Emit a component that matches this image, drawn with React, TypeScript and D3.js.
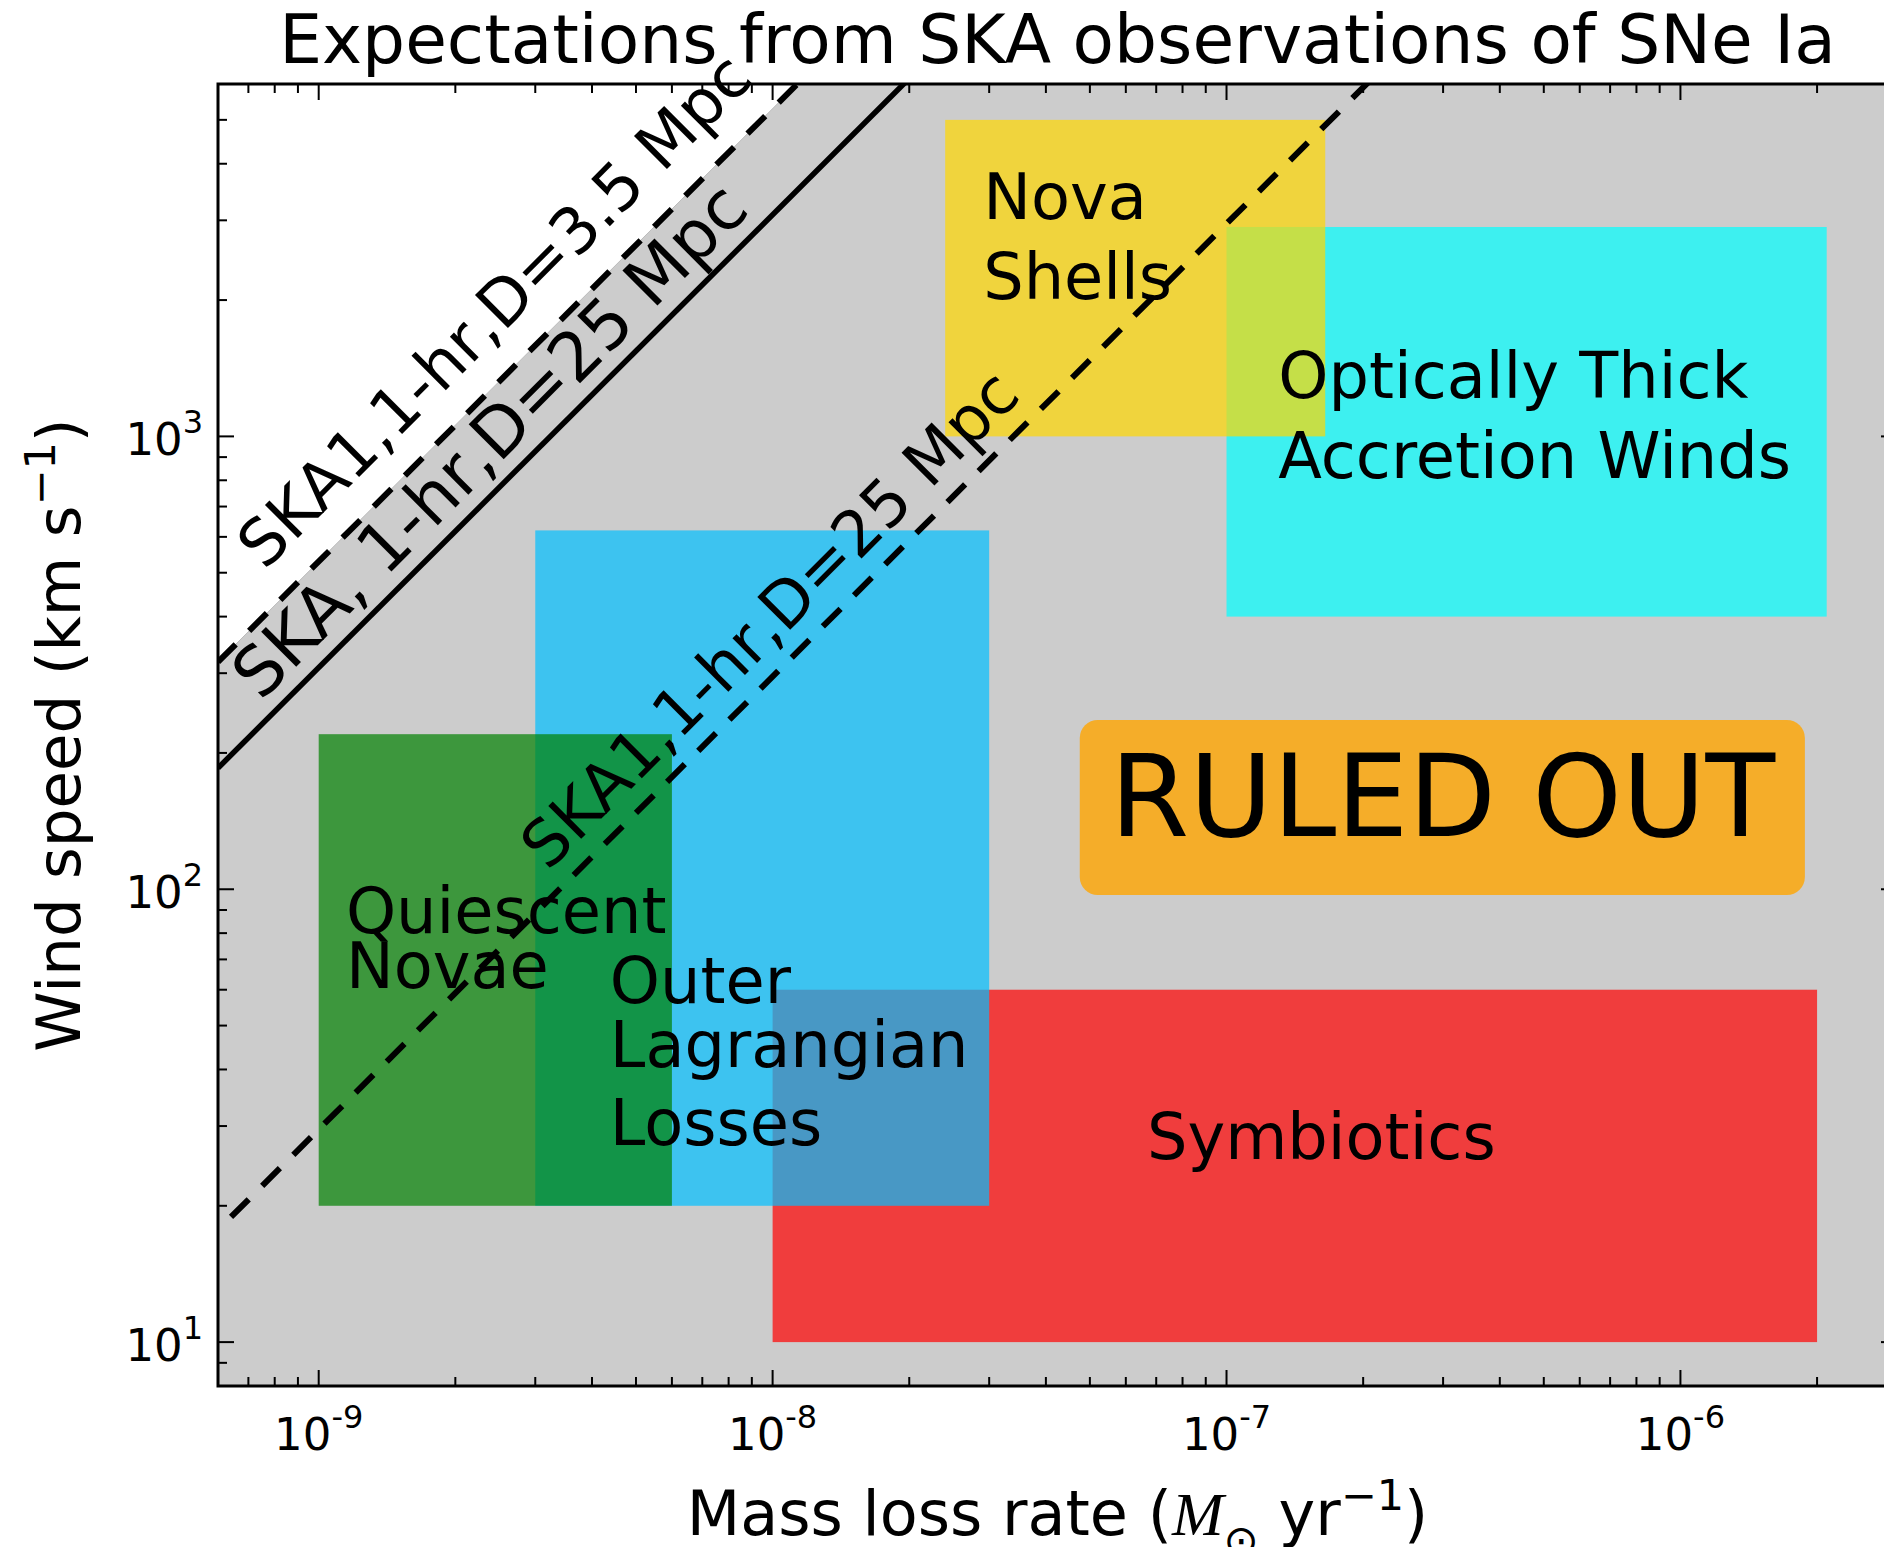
import React from 'react';
import * as d3 from 'd3';

// ---------- data ----------
const X_DOMAIN: [number, number] = [6e-10, 3e-6];
const Y_DOMAIN: [number, number] = [8, 6000];

const X_MAJOR = [1e-9, 1e-8, 1e-7, 1e-6];
const X_MAJOR_EXP = ['-9', '-8', '-7', '-6'];
const Y_MAJOR = [10, 100, 1000];
const Y_MAJOR_EXP = ['1', '2', '3'];

// regions (in drawing order)
const regionNames = ['Symbiotics', 'Outer Lagrangian Losses', 'Quiescent Novae', 'Optically Thick Accretion Winds', 'Nova Shells'];
const regionXMin = [1e-8, 3e-9, 1e-9, 1e-7, 2.4e-8];
const regionXMax = [2e-6, 3e-8, 6e-9, 2.1e-6, 1.65e-7];
const regionYMin = [10, 20, 20, 400, 1000];
const regionYMax = [60, 620, 220, 2900, 5000];
const regionColors = ['red', 'deepskyblue', 'green', 'cyan', 'gold'];

// detection limits (power laws v ∝ Mdot), endpoints
const limitNames = ['SKA1,1-hr,D=3.5 Mpc', 'SKA, 1-hr,D=25 Mpc', 'SKA1,1-hr,D=25 Mpc'];
const limitX = [[6e-10, 1e-7], [6e-10, 1e-7], [6.41e-10, 1e-6]];
const limitY = [[317.6, 52933], [185.2, 30867], [18.9, 29485]];
const limitDashed = [true, false, true];
// label anchor (baseline start) of each limit label, data coords
const limitLabelX = [7.61e-10, 7.46e-10, 3.2e-9];
const limitLabelY = [504, 259, 109.2];
const limitLabelSize = [64, 68, 63.8];

// region labels (one entry per text line), baseline-left in data coords
const labelLines = ['Nova', 'Shells', 'Optically Thick', 'Accretion Winds', 'Quiescent', 'Novae', 'Outer', 'Lagrangian', 'Losses', 'Symbiotics'];
const labelX = [2.91e-8, 2.91e-8, 1.3e-7, 1.3e-7, 1.148e-9, 1.148e-9, 4.38e-9, 4.38e-9, 4.38e-9, 6.68e-8];
const labelY = [3025, 2015, 1213, 809, 80.1, 60.4, 56.0, 40.6, 27.2, 25.4];

// "RULED OUT" annotation
const ruledText = 'RULED OUT';
const ruledX = 5.54e-8;
const ruledY = 131.1;
const ruledBoxX = [4.75e-8, 1.88e-6];
const ruledBoxY = [97.1, 236.5];

const TITLE = 'Expectations from SKA observations of SNe Ia';

// ---------- layout ----------
const W = 1884, H = 1547;
const L = 218, R = 1897, T = 84, B = 1386;
const FONT = 'DejaVu Sans, Verdana, sans-serif';

export default function App() {
  const x = d3.scaleLog().domain(X_DOMAIN).range([L, R]);
  const y = d3.scaleLog().domain(Y_DOMAIN).range([B, T]);
  const line = d3.line<[number, number]>().x(d => x(d[0])).y(d => y(d[1]));

  const xMinor = x.ticks().filter(t => !X_MAJOR.some(m => Math.abs(m - t) / m < 1e-6));
  const yMinor = y.ticks().filter(t => !Y_MAJOR.some(m => Math.abs(m - t) / m < 1e-6));

  const upperPts: [number, number][] = limitX[0].map((v, i) => [v, limitY[0][i]] as [number, number]);
  const whitePoly = [...upperPts, [X_DOMAIN[0], limitY[0][1]] as [number, number]];

  const majorLen = 16, minorLen = 9;

  return (
    <svg width={W} height={H} style={{ position: 'absolute', left: 0, top: 0, background: '#fff' }}
      fontFamily={FONT}>
      <defs>
        <clipPath id="plotclip"><rect x={L} y={T} width={R - L} height={B - T} /></clipPath>
      </defs>
      <rect x={0} y={0} width={W} height={H} fill="#fff" />
      {/* title */}
      <text x={(L + R) / 2} y={63} textAnchor="middle" fontSize={67.8} fill="#000">{TITLE}</text>

      <g clipPath="url(#plotclip)">
        <rect x={L} y={T} width={R - L} height={B - T} fill="#cccccc" />
        <path d={line(whitePoly) + 'Z'} fill="#ffffff" stroke="#bbbbbb" strokeWidth={1} />
        {regionNames.map((n, i) => (
          <rect key={n}
            x={x(regionXMin[i])} y={y(regionYMax[i])}
            width={x(regionXMax[i]) - x(regionXMin[i])}
            height={y(regionYMin[i]) - y(regionYMax[i])}
            fill={regionColors[i]} fillOpacity={0.7} />
        ))}
        {limitNames.map((n, i) => (
          <path key={n} d={line(limitX[i].map((v, j) => [v, limitY[i][j]] as [number, number])) || ''}
            fill="none" stroke="#000" strokeWidth={limitDashed[i] ? 6 : 5.5}
            strokeDasharray={limitDashed[i] ? '25 19' : undefined} />
        ))}
        {/* ruled out box */}
        <rect x={x(ruledBoxX[0])} y={y(ruledBoxY[1])}
          width={x(ruledBoxX[1]) - x(ruledBoxX[0])} height={y(ruledBoxY[0]) - y(ruledBoxY[1])}
          rx={18} ry={18} fill="orange" fillOpacity={0.8} />
      </g>

      {/* texts inside the axes (not clipped) */}
      <text x={x(ruledX)} y={y(ruledY)} fontSize={114} fill="#000">{ruledText}</text>
      {labelLines.map((t, i) => (
        <text key={t} x={x(labelX[i])} y={y(labelY[i])} fontSize={63.8} fill="#000">{t}</text>
      ))}
      {limitNames.map((n, i) => (
        <text key={'lab' + n} transform={`translate(${x(limitLabelX[i])},${y(limitLabelY[i])}) rotate(-45)`}
          fontSize={limitLabelSize[i]} fill="#000">{n}</text>
      ))}

      {/* ticks */}
      <g stroke="#000" strokeWidth={2}>
        {X_MAJOR.map(t => (
          <g key={'xM' + t}>
            <line x1={x(t)} x2={x(t)} y1={B} y2={B - majorLen} />
            <line x1={x(t)} x2={x(t)} y1={T} y2={T + majorLen} />
          </g>
        ))}
        {xMinor.map(t => (
          <g key={'xm' + t}>
            <line x1={x(t)} x2={x(t)} y1={B} y2={B - minorLen} />
            <line x1={x(t)} x2={x(t)} y1={T} y2={T + minorLen} />
          </g>
        ))}
        {Y_MAJOR.map(t => (
          <g key={'yM' + t}>
            <line x1={L} x2={L + majorLen} y1={y(t)} y2={y(t)} />
            <line x1={R} x2={R - majorLen} y1={y(t)} y2={y(t)} />
          </g>
        ))}
        {yMinor.map(t => (
          <g key={'ym' + t}>
            <line x1={L} x2={L + minorLen} y1={y(t)} y2={y(t)} />
            <line x1={R} x2={R - minorLen} y1={y(t)} y2={y(t)} />
          </g>
        ))}
      </g>
      {/* spines */}
      <rect x={L} y={T} width={R - L} height={B - T} fill="none" stroke="#000" strokeWidth={3} />

      {/* tick labels */}
      {X_MAJOR.map((t, i) => (
        <text key={'xl' + t} x={x(t)} y={1450} textAnchor="middle" fontSize={45} fill="#000">
          10<tspan dy={-22} fontSize={32}>{X_MAJOR_EXP[i]}</tspan>
        </text>
      ))}
      {Y_MAJOR.map((t, i) => (
        <text key={'yl' + t} x={203} y={y(t) + 19} textAnchor="end" fontSize={45} fill="#000">
          10<tspan dy={-22} fontSize={32}>{Y_MAJOR_EXP[i]}</tspan>
        </text>
      ))}

      {/* axis labels */}
      <text x={(L + R) / 2} y={1535} textAnchor="middle" fontSize={62} fill="#000">
        Mass loss rate (<tspan fontFamily="Liberation Serif, serif" fontStyle="italic">M</tspan>
        <tspan dy={20} fontSize={42}>⊙</tspan>
        <tspan dy={-20}> yr</tspan>
        <tspan dy={-25} fontSize={43}>−1</tspan>
        <tspan dy={25}>)</tspan>
      </text>
      <text transform={`translate(80,${(T + B) / 2}) rotate(-90)`} textAnchor="middle" fontSize={61} fill="#000">
        Wind speed (km s<tspan dy={-25} fontSize={43}>−1</tspan><tspan dy={25}>)</tspan>
      </text>
    </svg>
  );
}
